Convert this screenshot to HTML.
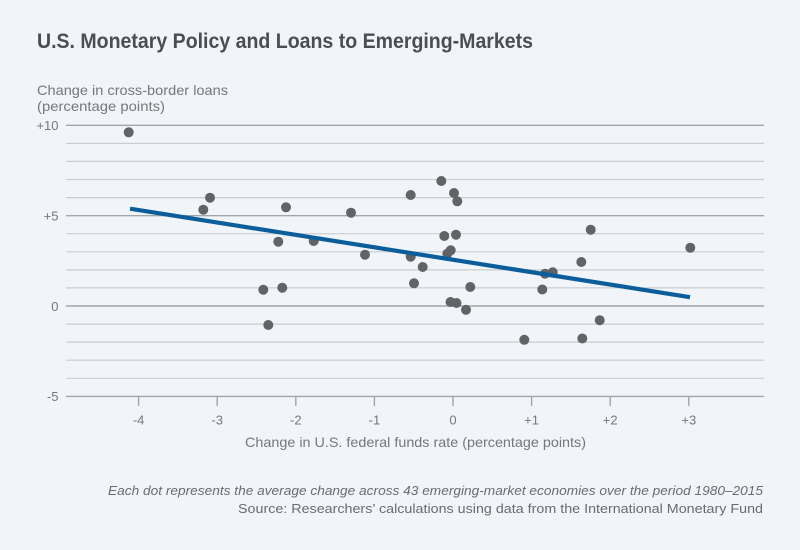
<!DOCTYPE html>
<html>
<head>
<meta charset="utf-8">
<style>
  html,body{margin:0;padding:0;background:#f1f5f9;}
  svg{display:block;}
  text{font-family:"Liberation Sans",sans-serif;}
</style>
</head>
<body>
<svg width="800" height="550" viewBox="0 0 800 550" xmlns="http://www.w3.org/2000/svg">
  <rect x="0" y="0" width="800" height="550" fill="#f1f5f9"/>
  <text x="37" y="48" font-size="21" font-weight="bold" fill="#4b4d52" textLength="496" lengthAdjust="spacingAndGlyphs">U.S. Monetary Policy and Loans to Emerging-Markets</text>
  <text x="37" y="95" font-size="14" fill="#76777a" textLength="191" lengthAdjust="spacingAndGlyphs">Change in cross-border loans</text>
  <text x="37" y="111" font-size="14" fill="#76777a" textLength="128" lengthAdjust="spacingAndGlyphs">(percentage points)</text>

  <!-- minor gridlines -->
  <g stroke="#cbcdd0" stroke-width="1.2">
    <line x1="66" x2="764" y1="143.4" y2="143.4"/>
    <line x1="66" x2="764" y1="161.4" y2="161.4"/>
    <line x1="66" x2="764" y1="179.5" y2="179.5"/>
    <line x1="66" x2="764" y1="197.6" y2="197.6"/>
    <line x1="66" x2="764" y1="233.7" y2="233.7"/>
    <line x1="66" x2="764" y1="251.8" y2="251.8"/>
    <line x1="66" x2="764" y1="269.9" y2="269.9"/>
    <line x1="66" x2="764" y1="287.9" y2="287.9"/>
    <line x1="66" x2="764" y1="324.1" y2="324.1"/>
    <line x1="66" x2="764" y1="342.1" y2="342.1"/>
    <line x1="66" x2="764" y1="360.2" y2="360.2"/>
    <line x1="66" x2="764" y1="378.3" y2="378.3"/>
  </g>
  <!-- major gridlines -->
  <g stroke="#a3a5a8" stroke-width="1.4">
    <line x1="66" x2="764" y1="125.3" y2="125.3"/>
    <line x1="66" x2="764" y1="215.7" y2="215.7"/>
    <line x1="66" x2="764" y1="306" y2="306"/>
    <line x1="66" x2="764" y1="396.4" y2="396.4"/>
  </g>
  <!-- x ticks -->
  <g stroke="#a3a5a8" stroke-width="1.4">
    <line x1="138.6" x2="138.6" y1="396" y2="406"/>
    <line x1="217.2" x2="217.2" y1="396" y2="406"/>
    <line x1="295.8" x2="295.8" y1="396" y2="406"/>
    <line x1="374.4" x2="374.4" y1="396" y2="406"/>
    <line x1="453" x2="453" y1="396" y2="406"/>
    <line x1="531.6" x2="531.6" y1="396" y2="406"/>
    <line x1="610.2" x2="610.2" y1="396" y2="406"/>
    <line x1="688.8" x2="688.8" y1="396" y2="406"/>
  </g>
  <!-- y tick labels -->
  <g font-size="13" fill="#76777a" text-anchor="end">
    <text x="58.5" y="130">+10</text>
    <text x="58.5" y="220.5">+5</text>
    <text x="58.5" y="311">0</text>
    <text x="58.5" y="401">-5</text>
  </g>
  <!-- x tick labels -->
  <g font-size="13" fill="#76777a" text-anchor="middle">
    <text x="138.6" y="424.5">-4</text>
    <text x="217.2" y="424.5">-3</text>
    <text x="295.8" y="424.5">-2</text>
    <text x="374.4" y="424.5">-1</text>
    <text x="453" y="424.5">0</text>
    <text x="531.6" y="424.5">+1</text>
    <text x="610.2" y="424.5">+2</text>
    <text x="688.8" y="424.5">+3</text>
  </g>
  <text x="245" y="447" font-size="14" fill="#76777a" textLength="341" lengthAdjust="spacingAndGlyphs">Change in U.S. federal funds rate (percentage points)</text>

  <!-- dots -->
  <g fill="#626366">
    <circle cx="128.7" cy="132.3" r="5"/>
    <circle cx="210" cy="197.7" r="5"/>
    <circle cx="203.3" cy="209.7" r="5"/>
    <circle cx="286" cy="207.3" r="5"/>
    <circle cx="278.3" cy="241.7" r="5"/>
    <circle cx="313.7" cy="241" r="5"/>
    <circle cx="263.3" cy="289.7" r="5"/>
    <circle cx="282.3" cy="287.7" r="5"/>
    <circle cx="268.3" cy="325" r="5"/>
    <circle cx="351" cy="212.7" r="5"/>
    <circle cx="365" cy="254.7" r="5"/>
    <circle cx="410.7" cy="195" r="5"/>
    <circle cx="441.3" cy="181" r="5"/>
    <circle cx="454" cy="193" r="5"/>
    <circle cx="457.3" cy="201.3" r="5"/>
    <circle cx="444.3" cy="236" r="5"/>
    <circle cx="456" cy="234.7" r="5"/>
    <circle cx="450.7" cy="250.3" r="5"/>
    <circle cx="447.3" cy="253.7" r="5"/>
    <circle cx="410.7" cy="256.7" r="5"/>
    <circle cx="422.7" cy="267" r="5"/>
    <circle cx="414" cy="283.3" r="5"/>
    <circle cx="470.3" cy="287" r="5"/>
    <circle cx="450.5" cy="302" r="5"/>
    <circle cx="456.5" cy="303" r="5"/>
    <circle cx="466" cy="309.8" r="5"/>
    <circle cx="542.3" cy="289.5" r="5"/>
    <circle cx="545" cy="273.7" r="5"/>
    <circle cx="552.7" cy="272.3" r="5"/>
    <circle cx="524.3" cy="339.8" r="5"/>
    <circle cx="582.3" cy="338.5" r="5"/>
    <circle cx="599.7" cy="320.2" r="5"/>
    <circle cx="590.7" cy="229.7" r="5"/>
    <circle cx="581.3" cy="262" r="5"/>
    <circle cx="690.3" cy="247.7" r="5"/>
  </g>

  <!-- trend line -->
  <line x1="130" y1="208.7" x2="690" y2="297.2" stroke="#0b5e9b" stroke-width="4.2"/>

  <!-- footnotes -->
  <text x="763" y="495" font-size="13" font-style="italic" fill="#6a6b6e" text-anchor="end" textLength="655" lengthAdjust="spacingAndGlyphs">Each dot represents the average change across 43 emerging-market economies over the period 1980–2015</text>
  <text x="763" y="513" font-size="13" fill="#6a6b6e" text-anchor="end" textLength="525" lengthAdjust="spacingAndGlyphs">Source: Researchers’ calculations using data from the International Monetary Fund</text>
</svg>
</body>
</html>
